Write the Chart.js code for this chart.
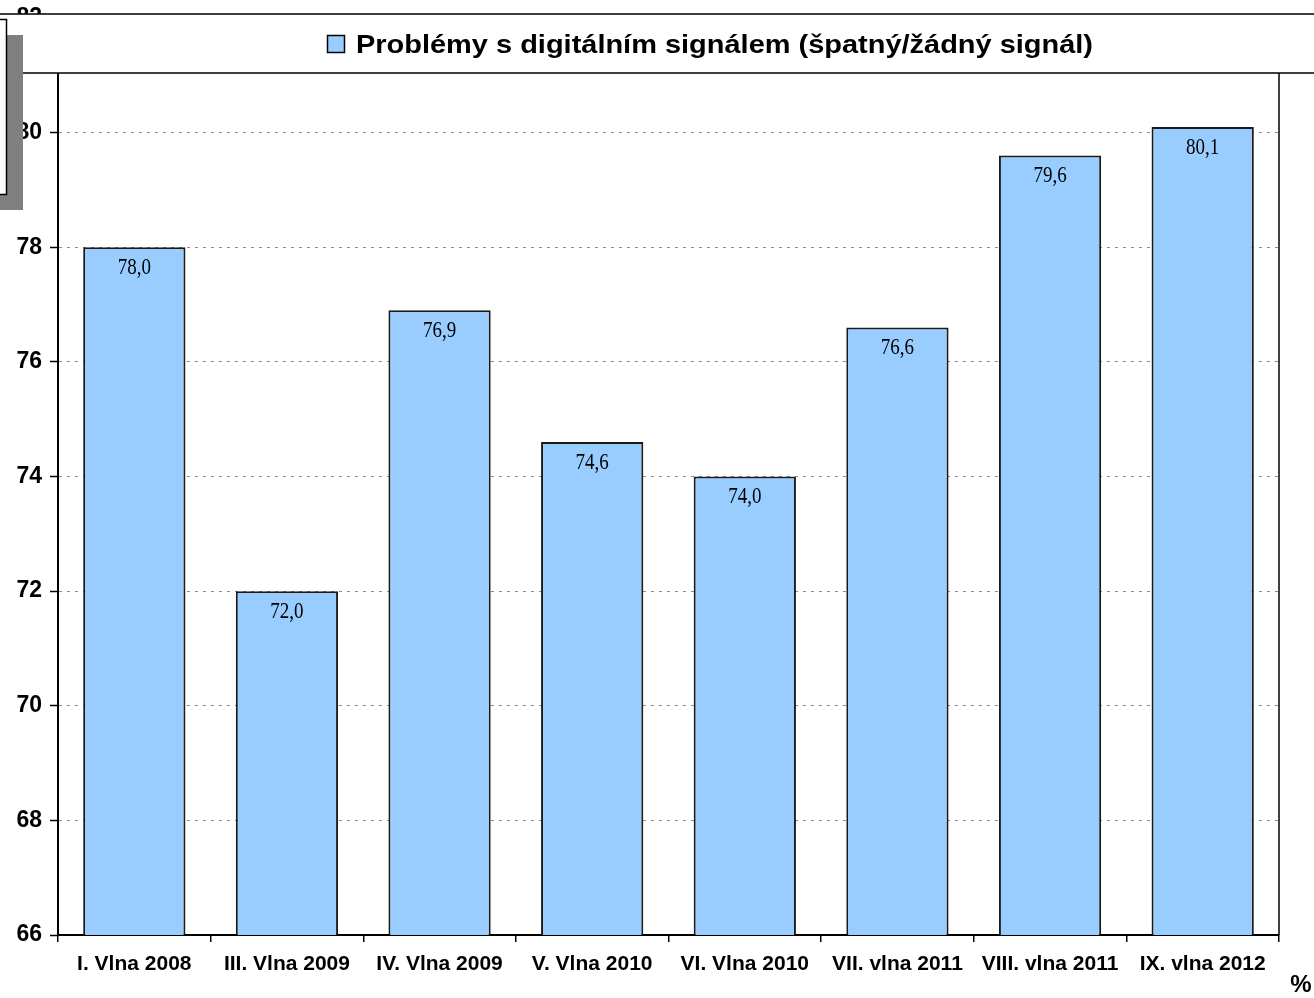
<!DOCTYPE html>
<html lang="cs">
  <head>
    <meta charset="UTF-8" />
    <title>Problémy s digitálním signálem</title>
    <script src="https://cdn.jsdelivr.net/npm/chart.js"></script>
    <style>
      body {
        margin: 0;
        background: #fff;
        overflow: hidden;
      }
      #wrap {
        width: 1314px;
        height: 998px;
      }
      canvas {
        display: block;
      }
    </style>
  </head>
  <body>
    <div id="wrap">
      <canvas id="barChart" width="1314" height="998"></canvas>
    </div>

    <script>
      // data
      const waves = [
        "I. Vlna 2008",
        "III. Vlna 2009",
        "IV. Vlna 2009",
        "V. Vlna 2010",
        "VI. Vlna 2010",
        "VII. vlna 2011",
        "VIII. vlna 2011",
        "IX. vlna 2012",
      ];
      const signalProblems = [78.0, 72.0, 76.9, 74.6, 74.0, 76.6, 79.6, 80.1];
      const seriesName = "Problémy s digitálním signálem (špatný/žádný signál)";
      const yMin = 66;
      const yMax = 82;
      const yStep = 2;
      const unitLabel = "%";

      const fmt = (v) => v.toFixed(1).replace(".", ",");

      // value labels, right border, legend box and the stray box top-left
      const decorations = {
        id: "decorations",
        afterDatasetsDraw(chart) {
          const ctx = chart.ctx;
          const meta = chart.getDatasetMeta(0);
          ctx.save();
          ctx.fillStyle = "#000";
          ctx.font = "19px 'Times New Roman', 'Liberation Serif', serif";
          ctx.textAlign = "center";
          ctx.textBaseline = "middle";
          meta.data.forEach((bar, i) => {
            ctx.save();
            ctx.translate(bar.x, bar.y + 21);
            ctx.scale(1, 1.18);
            ctx.fillText(fmt(chart.data.datasets[0].data[i]), 0, 0);
            ctx.restore();
          });
          ctx.restore();
        },
        afterDraw(chart) {
          const ctx = chart.ctx;
          const area = chart.chartArea;
          ctx.save();

          // right border of plot area
          ctx.strokeStyle = "#000";
          ctx.lineWidth = 1.5;
          ctx.beginPath();
          ctx.moveTo(area.right, area.top);
          ctx.lineTo(area.right, area.bottom);
          ctx.stroke();

          // legend box
          ctx.fillStyle = "#fff";
          ctx.fillRect(-2, 14, chart.width + 4, 59);
          ctx.strokeRect(-2, 14, chart.width + 4, 59);

          const ds = chart.data.datasets[0];
          ctx.fillStyle = ds.backgroundColor;
          ctx.fillRect(327.5, 35.5, 17, 17);
          ctx.lineWidth = 1.5;
          ctx.strokeRect(327.5, 35.5, 17, 17);

          ctx.fillStyle = "#000";
          ctx.font = "bold 26px Arial, 'Liberation Sans', sans-serif";
          ctx.textBaseline = "alphabetic";
          ctx.textAlign = "left";
          const w = ctx.measureText(ds.label).width;
          ctx.save();
          ctx.translate(356, 52.5);
          ctx.scale(737 / w, 1);
          ctx.fillText(ds.label, 0, 0);
          ctx.restore();

          // grey shadow + white box at the left edge
          ctx.fillStyle = "#808080";
          ctx.fillRect(0, 35, 23, 175);
          ctx.fillStyle = "#fff";
          ctx.fillRect(-2, 19.5, 8.5, 175);
          ctx.lineWidth = 1.5;
          ctx.strokeStyle = "#000";
          ctx.strokeRect(-2, 19.5, 8.5, 175);

          // unit
          ctx.fillStyle = "#000";
          ctx.font = "bold 24px Arial, 'Liberation Sans', sans-serif";
          ctx.textAlign = "center";
          ctx.textBaseline = "middle";
          ctx.fillText(unitLabel, 1301, 985);

          ctx.restore();
        },
      };

      new Chart(document.getElementById("barChart"), {
        type: "bar",
        data: {
          labels: waves,
          datasets: [
            {
              label: seriesName,
              data: signalProblems,
              backgroundColor: "#99CCFF",
              borderColor: "#1a1a1a",
              borderWidth: 2,
              borderSkipped: false,
              barPercentage: 0.67,
              categoryPercentage: 1,
            },
          ],
        },
        options: {
          responsive: false,
          animation: false,
          devicePixelRatio: 1,
          layout: {
            padding: { top: 18, right: 35, left: 0, bottom: 0 },
          },
          plugins: {
            legend: { display: false },
            tooltip: { enabled: false },
          },
          scales: {
            x: {
              offset: true,
              grid: {
                offset: true,
                drawOnChartArea: false,
                color: "#000",
                tickLength: 7,
                lineWidth: 1.5,
              },
              border: { color: "#000", width: 2 },
              ticks: {
                color: "#000",
                autoSkip: false,
                maxRotation: 0,
                padding: 10,
                font: {
                  family: "Arial, 'Liberation Sans', sans-serif",
                  size: 21,
                  weight: "bold",
                },
              },
              afterFit(scale) {
                scale.height = 63;
                scale.paddingLeft = 0;
                scale.paddingRight = 0;
              },
            },
            y: {
              min: yMin,
              max: yMax,
              grid: {
                color: "#8c8c8c",
                lineWidth: 1,
                tickLength: 8,
                tickColor: "#000",
                tickWidth: 1.5,
                tickBorderDash: [],
              },
              border: { color: "#000", width: 2, dash: [3, 5] },
              ticks: {
                stepSize: yStep,
                color: "#000",
                padding: 8,
                font: {
                  family: "Arial, 'Liberation Sans', sans-serif",
                  size: 23,
                  weight: "bold",
                },
              },
              afterFit(scale) {
                scale.width = 58;
                scale.paddingTop = 0;
                scale.paddingBottom = 0;
              },
            },
          },
        },
        plugins: [decorations],
      });
    </script>
  </body>
</html>
